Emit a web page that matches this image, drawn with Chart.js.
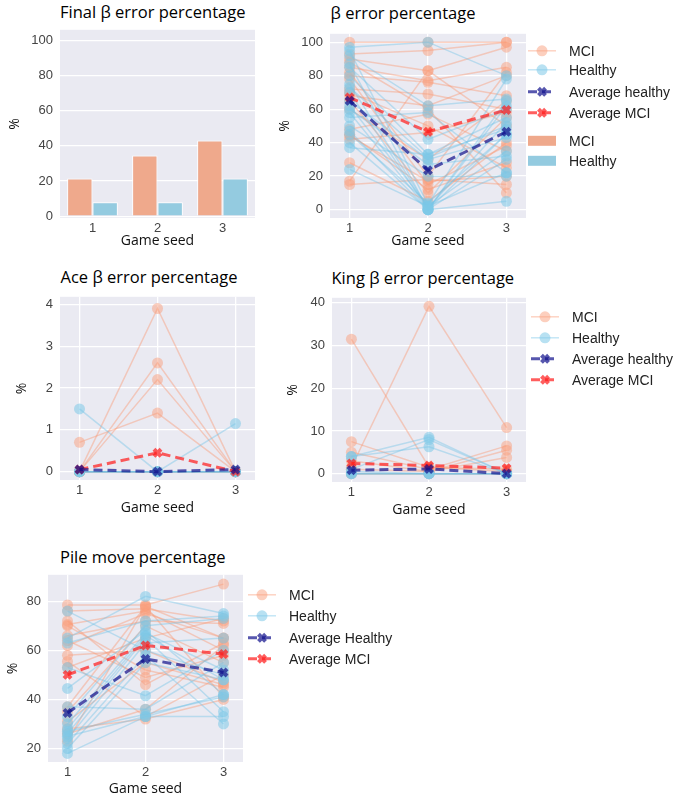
<!DOCTYPE html>
<html>
<head>
<meta charset="utf-8">
<script src="https://cdn.jsdelivr.net/npm/chart.js@4.4.0/dist/chart.umd.min.js"></script>
<style>
  body { margin: 0; background: #fff; width: 678px; height: 799px; position: relative; overflow: hidden; }
  canvas { position: absolute; }
  .ttl { position: absolute; font-family: "Open Sans", sans-serif; font-size: 16.5px; line-height: 1; color: #000; white-space: nowrap; }
</style>
</head>
<body>
<div class="ttl" id="t1">Final β error percentage</div>
<div class="ttl" id="t2">β error percentage</div>
<div class="ttl" id="t3">Ace β error percentage</div>
<div class="ttl" id="t4">King β error percentage</div>
<div class="ttl" id="t5">Pile move percentage</div>
<canvas id="c1"></canvas>
<canvas id="c2"></canvas>
<canvas id="c3"></canvas>
<canvas id="c4"></canvas>
<canvas id="c5"></canvas>
<script>
// game seeds on the x axis
const seeds = [1, 2, 3];
const seedLabels = ['1', '2', '3'];

// tick labels
const pctTicks = [0, 20, 40, 60, 80, 100];
const aceTicks = [0, 1, 2, 3, 4];
const kingTicks = [0, 10, 20, 30, 40];
const pileTicks = [20, 40, 60, 80];

// Final beta error (bars)
const finalMci = [21.5, 34.5, 43];
const finalHealthy = [8, 8, 21.5];

// Beta error per participant (seed 1, 2, 3)
const betaMci = [
  [100, 100, 100], [93, 95, 100], [90, 83, 97], [85, 77, 85], [82, 20, 82],
  [80, 76, 68], [78, 15, 38], [72, 69, 60], [70, 50, 25], [68, 62, 80],
  [65, 10, 55], [60, 30, 65], [48, 57, 35], [44, 17, 20], [42, 46, 58],
  [28, 5, 40], [17, 83, 50], [15, 18, 15], [88, 60, 10], [45, 12, 28]
];
const betaHealthy = [
  [97, 100, 80], [95, 3, 78], [92, 62, 66], [87, 0, 65], [85, 42, 60],
  [80, 33, 55], [75, 1, 52], [73, 31, 50], [70, 0, 45], [65, 30, 43],
  [62, 2, 35], [60, 27, 32], [58, 0, 30], [55, 58, 22], [50, 20, 20],
  [47, 0, 5], [45, 4, 45], [40, 0, 62], [37, 33, 48], [24, 2, 22]
];
const betaAvgHealthy = [65, 23.5, 46.5];
const betaAvgMci = [67, 46.5, 59.5];

// Ace beta error per participant
const aceMci = [
  [0.7, 1.4, 0], [0, 3.9, 0], [0, 2.6, 0], [0, 2.2, 0],
  [0, 0, 0], [0, 0, 0], [0, 0, 0]
];
const aceHealthy = [
  [1.5, 0, 0], [0, 0, 1.15], [0, 0, 0], [0, 0, 0], [0, 0, 0], [0, 0, 0]
];
const aceAvgHealthy = [0.05, 0, 0.05];
const aceAvgMci = [0.05, 0.45, 0];

// King beta error per participant
const kingMci = [
  [31.5, 1.5, 0.5], [1.5, 39.2, 10.8], [7.5, 1.5, 1], [5, 1, 6.5],
  [3, 0.5, 5.5], [1, 0.5, 3.8], [0, 0, 0], [0, 0, 0]
];
const kingHealthy = [
  [4, 8.5, 0], [4, 6.3, 0], [1, 8, 0], [0, 0, 0], [0, 0, 0], [0, 0, 0], [0.5, 0, 0]
];
const kingAvgHealthy = [0.8, 1.1, 0];
const kingAvgMci = [2.4, 1.9, 1.3];

// Pile move percentage per participant
const pileMci = [
  [78.5, 78.5, 87], [76, 77, 72], [72, 46, 63], [70.5, 76, 60], [70, 52, 45],
  [66, 72, 71], [64, 49, 58], [62, 75, 65], [58, 60, 47], [55.5, 33, 50],
  [53, 65, 73], [37, 78, 41], [35, 70, 55], [31, 55, 46], [28, 32, 40],
  [26, 36, 62], [23, 78, 65]
];
const pileHealthy = [
  [76, 60, 50], [65, 82, 75], [63, 72, 74], [53, 41.5, 60], [44.5, 68, 42],
  [37, 36, 55], [33, 70, 73], [30, 67, 52], [28, 66, 48], [27, 34, 41],
  [26, 65, 35], [25, 33, 33], [24, 63, 65], [22, 58, 30], [20, 55, 48],
  [18, 33, 42]
];
const pileAvgHealthy = [34.5, 56.5, 51];
const pileAvgMci = [50, 62, 58.5];

const BG = '#EAEAF2';
const MCI_LINE = 'rgba(250,150,112,0.42)';
const MCI_PT = 'rgba(250,160,125,0.5)';
const H_LINE = 'rgba(115,195,230,0.42)';
const H_PT = 'rgba(125,200,232,0.55)';
const AVG_H = 'rgba(15,15,140,0.7)';
const AVG_M = 'rgba(255,25,25,0.7)';
const BAR_MCI = '#EFA98C';
const BAR_H = '#94CBE0';
const TICK_FONT = { family: 'Liberation Sans', size: 13 };
const LABEL_SIZE = 14;
const LABEL_FONT = { family: 'Open Sans', size: LABEL_SIZE };
const LABEL_PAD = 12 - LABEL_SIZE * 0.6;

function participantSets(rows, line, pt, order) {
  return rows.map(r => ({
    data: r, borderColor: line, backgroundColor: pt,
    pointBackgroundColor: pt, pointBorderColor: pt,
    borderWidth: 1.5, pointRadius: 5.5, pointBorderWidth: 0, order: order
  }));
}

function avgSet(vals, color) {
  return {
    data: vals, borderColor: color, backgroundColor: color,
    borderWidth: 3, borderDash: [9, 5],
    pointStyle: 'crossRot', pointRadius: 5, pointBorderWidth: 4,
    pointBorderColor: color, order: 0
  };
}

const bgPlugin = {
  id: 'bg',
  beforeDraw(chart) {
    const { ctx, chartArea: a } = chart;
    ctx.save();
    ctx.fillStyle = BG;
    ctx.fillRect(a.left, a.top, a.right - a.left, a.bottom - a.top);
    ctx.restore();
  }
};

const LEG = {
  mci: { line: MCI_LINE, pt: MCI_PT, width: 1.5, style: 'circle', radius: 5.5, bw: 0 },
  healthy: { line: H_LINE, pt: H_PT, width: 1.5, style: 'circle', radius: 5.5, bw: 0 },
  avgH: { line: AVG_H, pt: AVG_H, width: 3, dash: [9, 5], style: 'crossRot', radius: 5, bw: 4 },
  avgM: { line: AVG_M, pt: AVG_M, width: 3, dash: [9, 5], style: 'crossRot', radius: 5, bw: 4 },
  barM: { patch: BAR_MCI },
  barH: { patch: BAR_H }
};

function legendPlugin(items, dx, ys) {
  return {
    id: 'sideLegend',
    afterDraw(chart) {
      const { ctx, chartArea: a } = chart;
      const x0 = a.right + dx;
      items.forEach((it, i) => {
        const s = LEG[it.kind];
        const y = a.top + ys[i];
        ctx.save();
        if (s.patch) {
          ctx.fillStyle = s.patch;
          ctx.fillRect(x0, y - 5, 28, 10);
        } else {
          ctx.strokeStyle = s.line;
          ctx.lineWidth = s.width;
          ctx.setLineDash(s.dash || []);
          ctx.beginPath();
          ctx.moveTo(x0, y);
          ctx.lineTo(x0 + 28, y);
          ctx.stroke();
          ctx.setLineDash([]);
          ctx.fillStyle = s.pt;
          ctx.strokeStyle = s.pt;
          ctx.lineWidth = s.bw;
          Chart.helpers.drawPoint(ctx, { pointStyle: s.style, radius: s.radius, borderWidth: s.bw, rotation: 0 }, x0 + 14, y);
        }
        ctx.fillStyle = '#222';
        ctx.font = '14px "Liberation Sans"';
        ctx.textBaseline = 'middle';
        ctx.fillText(it.label, x0 + 41, y + 1);
        ctx.restore();
      });
    }
  };
}

function fixTicks(vals) {
  return scale => { scale.ticks = vals.map(v => ({ value: v })); };
}

// p: plot box in page coords, ylabX / xlabY: centres of the axis titles
function makePanel(id, p, cfg) {
  const cv = document.getElementById(id);
  const left = p.ylabX - 12;
  const top = p.T - 10;
  const right = cfg.legend ? 678 : p.R + 10;
  const bottom = p.xlabY + 12;
  cv.style.left = left + 'px';
  cv.style.top = top + 'px';
  cv.width = right - left;
  cv.height = bottom - top;
  const yW = p.L - left;
  const xH = bottom - p.B;
  const plugins = [bgPlugin];
  if (cfg.legend) plugins.push(legendPlugin(cfg.legend.items, cfg.legend.dx, cfg.legend.ys));

  const xScale = cfg.bar ? {
    type: 'category', offset: true,
    grid: { display: false, drawTicks: false }, border: { display: false },
    ticks: { color: '#444', font: TICK_FONT, padding: 3, maxRotation: 0 }
  } : {
    type: 'linear', min: 0.75, max: 3.25,
    afterBuildTicks: fixTicks(seeds),
    grid: { color: '#fff', lineWidth: 1.3, drawTicks: false }, border: { display: false },
    ticks: { color: '#444', font: TICK_FONT, padding: 3, maxRotation: 0 }
  };
  xScale.afterFit = s => { s.height = xH; };
  xScale.title = { display: true, text: 'Game seed', color: '#111', font: LABEL_FONT, padding: { top: 0, bottom: LABEL_PAD } };

  new Chart(cv, {
    type: cfg.bar ? 'bar' : 'line',
    data: { labels: cfg.bar ? seedLabels : seeds, datasets: cfg.datasets },
    options: {
      responsive: false, animation: false, devicePixelRatio: 1,
      layout: { padding: { left: 0, top: 10, right: right - p.R, bottom: 0 } },
      plugins: { legend: { display: false }, tooltip: { enabled: false } },
      elements: { line: { tension: 0 } },
      scales: {
        x: xScale,
        y: {
          type: 'linear', min: p.ymin, max: p.ymax,
          afterBuildTicks: fixTicks(cfg.yTicks),
          afterFit: s => { s.width = yW; },
          grid: { color: '#fff', lineWidth: 1.3, drawTicks: false }, border: { display: false },
          ticks: { color: '#444', font: TICK_FONT, padding: 7 },
          title: { display: true, text: '%', color: '#111', font: LABEL_FONT, padding: { top: LABEL_PAD, bottom: 0 } }
        }
      }
    },
    plugins: plugins
  });
}

function placeTitle(id, x, baseline) {
  const el = document.getElementById(id);
  el.style.left = x + 'px';
  el.style.top = (baseline - 14.6) + 'px';
}
placeTitle('t1', 60, 18.5);
placeTitle('t2', 330.5, 19.5);
placeTitle('t3', 60.5, 283.5);
placeTitle('t4', 331.5, 285);
placeTitle('t5', 60, 564);

const legLines = (avgHLabel) => [
  { kind: 'mci', label: 'MCI' },
  { kind: 'healthy', label: 'Healthy' },
  { kind: 'avgH', label: avgHLabel },
  { kind: 'avgM', label: 'Average MCI' }
];

makePanel('c1', { L: 60, R: 255, T: 25, B: 218, ymin: -1, ymax: 106, ylabX: 15, xlabY: 241 }, {
  bar: true, yTicks: pctTicks,
  datasets: [
    { data: finalMci, backgroundColor: BAR_MCI, borderColor: '#fff', borderWidth: 1, categoryPercentage: 0.78, barPercentage: 1 },
    { data: finalHealthy, backgroundColor: BAR_H, borderColor: '#fff', borderWidth: 1, categoryPercentage: 0.78, barPercentage: 1 }
  ]
});

makePanel('c2', { L: 330, R: 526, T: 29, B: 218, ymin: -5, ymax: 105, ylabX: 285, xlabY: 241 }, {
  yTicks: pctTicks,
  datasets: [avgSet(betaAvgHealthy, AVG_H), avgSet(betaAvgMci, AVG_M)]
    .concat(participantSets(betaHealthy, H_LINE, H_PT, 1))
    .concat(participantSets(betaMci, MCI_LINE, MCI_PT, 2)),
  legend: {
    dx: 2, ys: [17, 36, 58, 79, 107, 127],
    items: legLines('Average healthy').concat([{ kind: 'barM', label: 'MCI' }, { kind: 'barH', label: 'Healthy' }])
  }
});

makePanel('c3', { L: 60, R: 255, T: 292, B: 480, ymin: -0.2, ymax: 4.18, ylabX: 22, xlabY: 508 }, {
  yTicks: aceTicks,
  datasets: [avgSet(aceAvgHealthy, AVG_H), avgSet(aceAvgMci, AVG_M)]
    .concat(participantSets(aceHealthy, H_LINE, H_PT, 1))
    .concat(participantSets(aceMci, MCI_LINE, MCI_PT, 2))
});

makePanel('c4', { L: 332, R: 526, T: 293, B: 482, ymin: -1.96, ymax: 41.2, ylabX: 293, xlabY: 510 }, {
  yTicks: kingTicks,
  datasets: [avgSet(kingAvgHealthy, AVG_H), avgSet(kingAvgMci, AVG_M)]
    .concat(participantSets(kingHealthy, H_LINE, H_PT, 1))
    .concat(participantSets(kingMci, MCI_LINE, MCI_PT, 2)),
  legend: { dx: 5, ys: [19, 40, 61, 82], items: legLines('Average healthy') }
});

makePanel('c5', { L: 48, R: 243, T: 570, B: 762, ymin: 14.5, ymax: 90.8, ylabX: 13, xlabY: 789 }, {
  yTicks: pileTicks,
  datasets: [avgSet(pileAvgHealthy, AVG_H), avgSet(pileAvgMci, AVG_M)]
    .concat(participantSets(pileHealthy, H_LINE, H_PT, 1))
    .concat(participantSets(pileMci, MCI_LINE, MCI_PT, 2)),
  legend: { dx: 5, ys: [20, 41, 63, 84], items: legLines('Average Healthy') }
});
</script>
</body>
</html>
